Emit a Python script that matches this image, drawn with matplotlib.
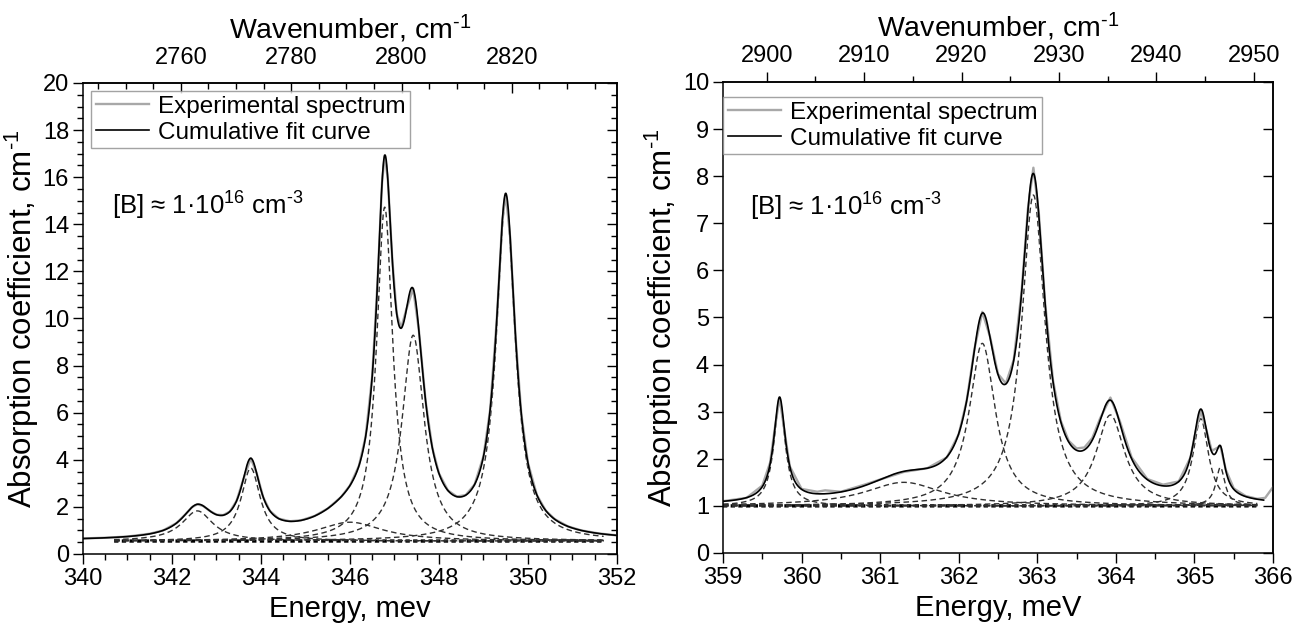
import numpy as np
import matplotlib
matplotlib.use("Agg")
from matplotlib import pyplot as plt
from matplotlib.ticker import MultipleLocator, FixedLocator

plt.rcParams['font.family'] = ['Liberation Sans', 'DejaVu Sans']
plt.rcParams['mathtext.fontset'] = 'custom'
plt.rcParams['mathtext.rm'] = 'Liberation Sans'
plt.rcParams['mathtext.it'] = 'Liberation Sans:italic'
plt.rcParams['mathtext.bf'] = 'Liberation Sans:bold'

MEV_TO_CM = 8.0655

# left panel: measured spectrum, 340-352 meV
left_exp_energy = [340.0, 340.5, 341.0, 341.5, 341.8, 342.1, 342.3, 342.45, 342.57, 342.7,
                   342.85, 343.0, 343.15, 343.3, 343.45, 343.6, 343.77, 343.9, 344.05, 344.2,
                   344.4, 344.65, 344.9, 345.2, 345.5, 345.8, 346.0, 346.2, 346.35, 346.5,
                   346.62, 346.72, 346.78, 346.85, 346.95, 347.05, 347.15, 347.27, 347.42, 347.55,
                   347.7, 347.85, 348.0, 348.2, 348.4, 348.6, 348.8, 349.0, 349.15, 349.3,
                   349.42, 349.5, 349.6, 349.72, 349.85, 350.0, 350.2, 350.4, 350.6, 350.9,
                   351.2, 351.6, 352.0]
left_exp_absorb = [0.66, 0.69, 0.74, 0.86, 1.00, 1.31, 1.68, 1.99, 2.11, 2.04,
                   1.83, 1.67, 1.65, 1.80, 2.25, 3.15, 4.07, 3.45, 2.41, 1.83,
                   1.50, 1.39, 1.43, 1.61, 1.93, 2.42, 2.91, 3.74, 4.97, 7.56,
                   11.6, 15.76, 16.93, 15.92, 12.52, 10.2, 9.59, 10.41, 11.27, 9.46,
                   6.48, 4.51, 3.42, 2.70, 2.44, 2.50, 2.95, 4.15, 6.13, 10.0,
                   14.08, 15.31, 13.43, 9.24, 5.94, 3.86, 2.50, 1.84, 1.48, 1.17,
                   1.00, 0.87, 0.79]

# left panel: Lorentz components of the fit
left_peak_center = [342.57, 343.77, 346.0, 346.78, 347.42, 349.5]
left_peak_height = [1.28, 3.1, 0.8, 14.18, 8.74, 14.43]
left_peak_hwhm = [0.42, 0.26, 0.9, 0.22, 0.3, 0.26]
left_baseline = 0.55
left_top_ticks = [2760, 2780, 2800, 2820]

# right panel: measured spectrum, 359-366 meV
right_exp_energy = [359.0, 359.3, 359.5, 359.6, 359.66, 359.72, 359.78, 359.85, 360.0, 360.2,
                    360.3, 360.5, 360.8, 361.0, 361.3, 361.6, 361.85, 362.0, 362.1, 362.2,
                    362.3, 362.4, 362.5, 362.6, 362.7, 362.8, 362.88, 362.95, 363.02, 363.1,
                    363.2, 363.3, 363.4, 363.5, 363.6, 363.7, 363.8, 363.93, 364.05, 364.2,
                    364.4, 364.6, 364.8, 364.95, 365.0, 365.08, 365.15, 365.22, 365.3, 365.33,
                    365.4, 365.5, 365.65, 365.8, 365.9, 366.0]
right_exp_absorb = [1.10, 1.17, 1.43, 1.92, 2.65, 3.30, 2.62, 1.84, 1.36, 1.30,
                    1.33, 1.30, 1.45, 1.56, 1.72, 1.80, 2.03, 2.52, 3.22, 4.33,
                    5.12, 4.58, 3.80, 3.60, 4.10, 5.55, 7.30, 8.18, 7.20, 5.30,
                    3.66, 2.80, 2.38, 2.22, 2.24, 2.44, 2.86, 3.30, 2.80, 2.03,
                    1.57, 1.45, 1.52, 2.03, 2.46, 3.02, 2.62, 2.17, 2.24, 2.27,
                    1.76, 1.37, 1.21, 1.15, 1.17, 1.40]

# right panel: Lorentz components of the fit
right_peak_center = [359.72, 361.3, 362.3, 362.95, 363.93, 365.08, 365.33]
right_peak_height = [2.2, 0.5, 3.45, 6.6, 1.93, 1.85, 0.82]
right_peak_hwhm = [0.09, 0.6, 0.2, 0.18, 0.22, 0.12, 0.07]
right_baseline = 1.0
right_top_ticks = [2900, 2910, 2920, 2930, 2940, 2950]

note = r'[B] ≈ 1·10$^{16}$ cm$^{\text{-}3}$'
ylab = r'Absorption coefficient, cm$^{\text{-}1}$'
toplab = r'Wavenumber, cm$^{\text{-}1}$'


def lorentz(x, c, a, w):
    return a * w ** 2 / ((x - c) ** 2 + w ** 2)


def draw_panel(ax, exp_e, exp_a, centers, heights, widths, base, fit_lim, comp_lim):
    xs = np.linspace(comp_lim[0], comp_lim[1], 1200)
    ax.plot(xs, np.full_like(xs, base), color='black', lw=2.4, dashes=(1.3, 1.0))
    for c, a, w in zip(centers, heights, widths):
        ax.plot(xs, base + lorentz(xs, c, a, w), color='#303030', lw=1.0, dashes=(4, 2.5))
    ax.plot(exp_e, exp_a, color='#a8a8a8', lw=1.7, label='Experimental spectrum')
    xf = np.linspace(fit_lim[0], fit_lim[1], 2000)
    fit = base + sum(lorentz(xf, c, a, w) for c, a, w in zip(centers, heights, widths))
    ax.plot(xf, fit, color='black', lw=1.2, label='Cumulative fit curve')


def style_axes(ax, xstep, xminor, ystep, yminor, top_ticks, top_minor, top_dir, right_minor):
    for sp in ax.spines.values():
        sp.set_linewidth(1.1)
    ax.xaxis.set_major_locator(MultipleLocator(xstep))
    ax.xaxis.set_minor_locator(MultipleLocator(xminor))
    ax.yaxis.set_major_locator(MultipleLocator(ystep))
    if yminor:
        ax.yaxis.set_minor_locator(MultipleLocator(yminor))
    ax.tick_params(which='both', direction='out', top=False, right=False, labelsize=17, width=1.0)
    ax.tick_params(which='major', length=7, pad=3)
    ax.tick_params(which='minor', length=4)

    sec = ax.secondary_xaxis('top', functions=(lambda e: e * MEV_TO_CM, lambda w: w / MEV_TO_CM))
    sec.xaxis.set_major_locator(FixedLocator(top_ticks))
    lo, hi = ax.get_xlim()
    step = top_ticks[1] - top_ticks[0]
    minors = [t for t in np.arange(top_ticks[0] - step, top_ticks[-1] + step + 1, top_minor)
              if lo * MEV_TO_CM <= t <= hi * MEV_TO_CM]
    sec.xaxis.set_minor_locator(FixedLocator(minors))
    pad = 10 if top_dir == 'in' else 4
    sec.tick_params(which='both', direction=top_dir, labelsize=17, width=1.0, pad=pad)
    sec.tick_params(which='major', length=7)
    sec.tick_params(which='minor', length=4)
    sec.spines['top'].set_linewidth(1.1)
    sec.set_xlabel(toplab, fontsize=20.5, labelpad=6)

    sr = ax.secondary_yaxis('right')
    sr.yaxis.set_major_locator(MultipleLocator(ystep))
    if right_minor:
        sr.yaxis.set_minor_locator(MultipleLocator(right_minor))
    else:
        sr.yaxis.set_minor_locator(plt.NullLocator())
    sr.tick_params(which='both', direction='in', labelright=False, width=1.0)
    sr.tick_params(which='major', length=7)
    sr.tick_params(which='minor', length=4)
    sr.spines['right'].set_linewidth(1.1)


fig = plt.figure(figsize=(13.15, 6.34), dpi=100)
ax1 = fig.add_axes([0.0631, 0.1262, 0.4061, 0.7429])
ax2 = fig.add_axes([0.5498, 0.1278, 0.4183, 0.7429])

draw_panel(ax1, left_exp_energy, left_exp_absorb, left_peak_center, left_peak_height,
           left_peak_hwhm, left_baseline, (340.0, 352.0), (340.7, 351.7))
ax1.set_xlim(340, 352)
ax1.set_ylim(0, 20)
style_axes(ax1, 2, 0.5, 2, 0.5, left_top_ticks, 5, 'in', 0.5)
ax1.set_xlabel('Energy, mev', fontsize=21, labelpad=4)
ax1.set_ylabel(ylab, fontsize=22.5, labelpad=1)
ax1.text(0.054, 0.74, note, transform=ax1.transAxes, fontsize=18.5, va='center', ha='left')

draw_panel(ax2, right_exp_energy, right_exp_absorb, right_peak_center, right_peak_height,
           right_peak_hwhm, right_baseline, (359.0, 365.88), (359.0, 365.8))
ax2.set_xlim(359, 366)
ax2.set_ylim(0, 10)
style_axes(ax2, 1, 0.5, 1, None, right_top_ticks, 5, 'out', None)
ax2.set_xlabel('Energy, meV', fontsize=21, labelpad=4)
ax2.set_ylabel(ylab, fontsize=22.5, labelpad=1)
ax2.text(0.049, 0.735, note, transform=ax2.transAxes, fontsize=18.5, va='center', ha='left')

for ax, anchor in ((ax1, (0.015, 0.983)), (ax2, (0.0, 0.968))):
    leg = ax.legend(loc='upper left', bbox_to_anchor=anchor, borderaxespad=0, fontsize=17.5,
                    frameon=True, fancybox=False, handlelength=2.2, handletextpad=0.35,
                    borderpad=0.2, labelspacing=0.15)
    leg.get_frame().set_edgecolor('#8c8c8c')
    leg.get_frame().set_linewidth(1.0)

fig.savefig('out.png', dpi=100)
